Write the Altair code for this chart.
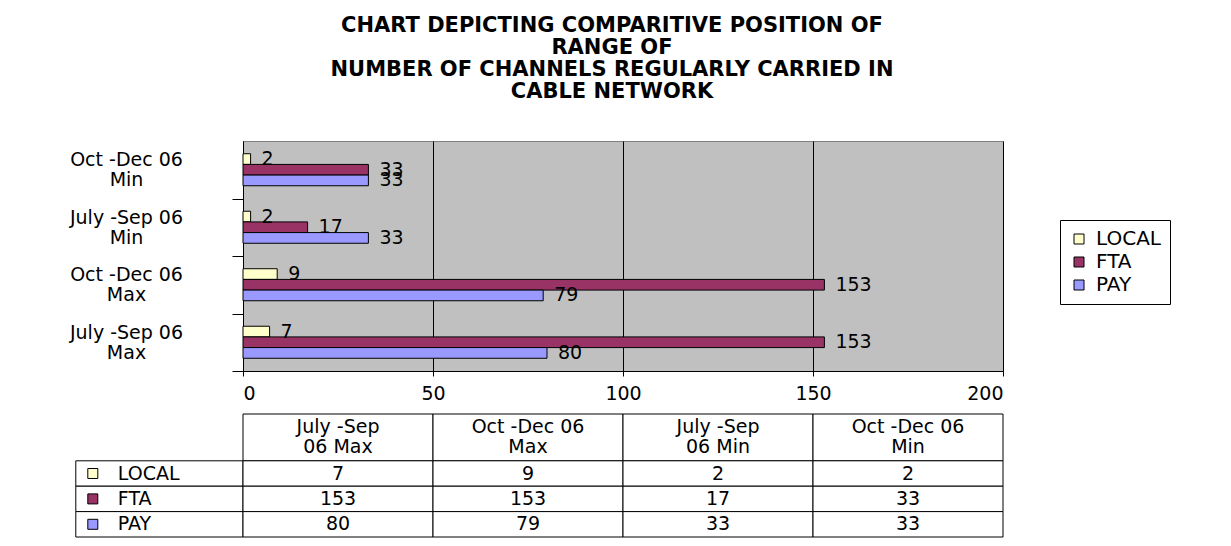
import altair as alt
import pandas as pd

# ---------------- data ----------------
categories = ["July -Sep 06 Max", "Oct -Dec 06 Max", "July -Sep 06 Min", "Oct -Dec 06 Min"]
table_headers = ["July -Sep\n06 Max", "Oct -Dec 06\nMax", "July -Sep\n06 Min", "Oct -Dec 06\nMin"]
series = ["LOCAL", "FTA", "PAY"]
local_values = [7, 9, 2, 2]
fta_values = [153, 153, 17, 33]
pay_values = [80, 79, 33, 33]
x_ticks = [0, 50, 100, 150, 200]
title_lines = [
    "CHART DEPICTING COMPARITIVE POSITION OF",
    "RANGE OF",
    "NUMBER OF CHANNELS REGULARLY CARRIED IN",
    "CABLE NETWORK",
]

# ---------------- styles ----------------
colors = ["#FFFFCC", "#993366", "#9999FF"]
FONT = "DejaVu Sans"
FS = 19
PLOT_W, PLOT_H = 760, 230
HEADER_ROWS = 47 / 25.5        # header row height in units of a data row
ROW_PX = 25.5
LABEL_COL = 44                 # width of the table's label column, in x units
STEP_PX = PLOT_H / len(categories)
LINE_H = 20

values_by_series = {"LOCAL": local_values, "FTA": fta_values, "PAY": pay_values}
bar_rows = []
for s in series:
    for c, v in zip(categories, values_by_series[s]):
        bar_rows.append({"category": c, "series": s, "value": v})
bars_df = pd.DataFrame(bar_rows)

color_scale = alt.Scale(domain=series, range=colors)

y_enc = alt.Y(
    "category:N",
    sort=categories[::-1],
    scale=alt.Scale(paddingInner=0.443, paddingOuter=0.2215),
    axis=alt.Axis(
        title=None,
        domainColor="black",
        tickColor="black",
        tickSize=11,
        tickOffset=STEP_PX / 2,
        labelAlign="center",
        labelBaseline="middle",
        labelPadding=106,
        labelOffset=-(LINE_H / 2) - STEP_PX / 2,
        labelFont=FONT,
        labelFontSize=FS,
        labelColor="black",
        labelLineHeight=LINE_H,
        labelExpr="[substring(datum.label, 0, lastindexof(datum.label, ' ')), "
                  "substring(datum.label, lastindexof(datum.label, ' ') + 1)]",
    ),
)
yoff_enc = alt.YOffset("series:N", sort=series, scale=alt.Scale(paddingInner=0, paddingOuter=0))
x_enc = alt.X(
    "value:Q",
    scale=alt.Scale(domain=[x_ticks[0], x_ticks[-1]], nice=False),
    axis=alt.Axis(
        values=x_ticks,
        title=None,
        grid=True,
        gridColor="black",
        gridWidth=1,
        gridOpacity=1,
        domainColor="black",
        tickColor="black",
        tickSize=5,
        labelFont=FONT,
        labelFontSize=FS,
        labelColor="black",
        labelPadding=8,
    ),
)

bars = alt.Chart(bars_df).mark_bar(stroke="black", strokeWidth=1).encode(
    y=y_enc,
    yOffset=yoff_enc,
    x=x_enc,
    color=alt.Color(
        "series:N",
        scale=color_scale,
        sort=series,
        legend=alt.Legend(
            title=None,
            orient="none",
            legendX=817,
            legendY=79,
            strokeColor="black",
            fillColor="white",
            padding=9,
            symbolType="square",
            symbolSize=100,
            symbolStrokeColor="black",
            symbolStrokeWidth=1,
            labelFont=FONT,
            labelFontSize=20,
            labelColor="black",
            rowPadding=3,
            labelOffset=7,
        ),
    ),
)

bar_labels = alt.Chart(bars_df).mark_text(
    align="left", baseline="middle", dx=11, font=FONT, fontSize=FS, color="black"
).encode(y=y_enc, yOffset=yoff_enc, x=x_enc, text="value:Q")

top = alt.layer(bars, bar_labels).properties(
    width=PLOT_W,
    height=PLOT_H,
    view=alt.ViewBackground(fill="#C0C0C0", stroke="#808080"),
)

# ---------------- data table ----------------
step = x_ticks[1] - x_ticks[0]
cells = []
for i, (c, h) in enumerate(zip(categories, table_headers)):
    cells.append({"kind": "header", "x0": i * step, "x1": (i + 1) * step,
                  "y0": 0, "y1": HEADER_ROWS, "text": h, "series": ""})
for j, s in enumerate(series):
    y0 = HEADER_ROWS + j
    cells.append({"kind": "label", "x0": -LABEL_COL, "x1": 0,
                  "y0": y0, "y1": y0 + 1, "text": s, "series": s})
    for i, v in enumerate(values_by_series[s]):
        cells.append({"kind": "value", "x0": i * step, "x1": (i + 1) * step,
                      "y0": y0, "y1": y0 + 1, "text": str(v), "series": s})
cells_df = pd.DataFrame(cells)
cells_df["xc"] = (cells_df["x0"] + cells_df["x1"]) / 2
cells_df["yc"] = (cells_df["y0"] + cells_df["y1"]) / 2

n_rows = HEADER_ROWS + len(series)
tx = alt.Scale(domain=[x_ticks[0], x_ticks[-1]], nice=False, zero=False)
ty = alt.Scale(domain=[0, n_rows], nice=False, zero=False, reverse=True)

base = alt.Chart(cells_df)
grid_rects = base.mark_rect(fill="white", stroke="black", strokeWidth=1).encode(
    x=alt.X("x0:Q", scale=tx, axis=None),
    x2="x1:Q",
    y=alt.Y("y0:Q", scale=ty, axis=None),
    y2="y1:Q",
)
text_props = dict(font=FONT, fontSize=FS, color="black", baseline="middle")
header_text = base.transform_filter("datum.kind == 'header'").mark_text(
    align="center", lineBreak="\n", lineHeight=LINE_H, dy=-(LINE_H / 2), **text_props
).encode(x=alt.X("xc:Q", scale=tx, axis=None), y=alt.Y("yc:Q", scale=ty, axis=None), text="text:N")
value_text = base.transform_filter("datum.kind == 'value'").mark_text(
    align="center", **text_props
).encode(x=alt.X("xc:Q", scale=tx, axis=None), y=alt.Y("yc:Q", scale=ty, axis=None), text="text:N")
label_text = base.transform_filter("datum.kind == 'label'").mark_text(
    align="left", dx=42, **text_props
).encode(x=alt.X("x0:Q", scale=tx, axis=None), y=alt.Y("yc:Q", scale=ty, axis=None), text="text:N")
swatches = base.transform_filter("datum.kind == 'label'").mark_square(
    size=100, stroke="black", strokeWidth=1, opacity=1, xOffset=17
).encode(
    x=alt.X("x0:Q", scale=tx, axis=None),
    y=alt.Y("yc:Q", scale=ty, axis=None),
    color=alt.Color("series:N", scale=color_scale, legend=None),
)

table = alt.layer(grid_rects, header_text, value_text, label_text, swatches).properties(
    width=PLOT_W,
    height=round(n_rows * ROW_PX),
)

chart = (
    alt.vconcat(top, table, spacing=9)
    .resolve_legend(color="independent")
    .properties(
        title=alt.Title(
            title_lines,
            anchor="middle",
            font=FONT,
            fontSize=21,
            fontWeight="bold",
            color="black",
            lineHeight=22,
            offset=39,
            dx=-8,
        ),
        padding={"left": 60, "top": 6, "right": 5, "bottom": 5},
        background="white",
    )
    .configure_view(stroke="transparent")
)

chart.save("out.html", embed_options={"renderer": "svg", "actions": False})
